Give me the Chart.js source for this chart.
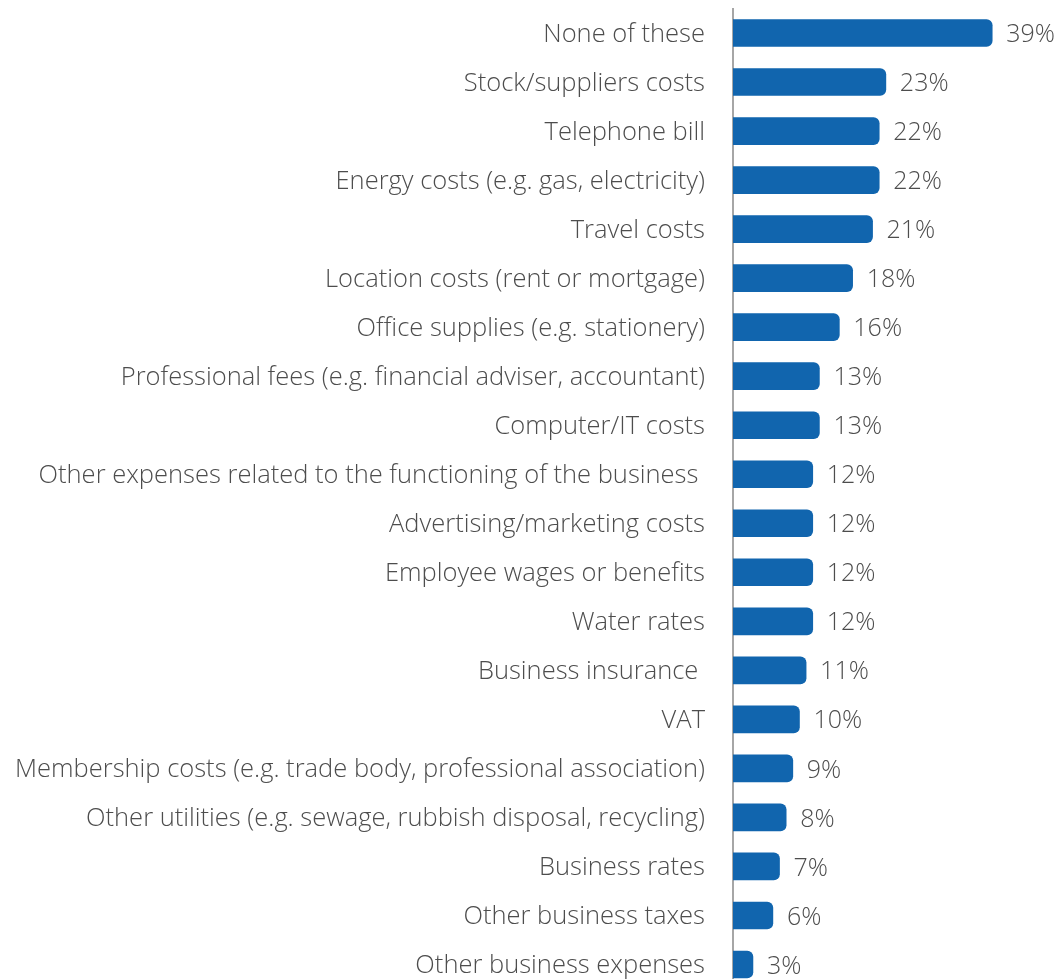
<!DOCTYPE html>
<html>
<head>
<meta charset="utf-8">
<script src="https://cdn.jsdelivr.net/npm/chart.js@4.4.1/dist/chart.umd.min.js"></script>
<style>
  html, body { margin: 0; padding: 0; background: #fff; overflow: hidden; }
  canvas { display: block; }
</style>
</head>
<body>
<canvas id="chart" width="1062" height="989"></canvas>
<script>
const categories = [
  "None of these",
  "Stock/suppliers costs",
  "Telephone bill",
  "Energy costs (e.g. gas, electricity)",
  "Travel costs",
  "Location costs (rent or mortgage)",
  "Office supplies (e.g. stationery)",
  "Professional fees (e.g. financial adviser, accountant)",
  "Computer/IT costs",
  "Other expenses related to the functioning of the business ",
  "Advertising/marketing costs",
  "Employee wages or benefits",
  "Water rates",
  "Business insurance ",
  "VAT",
  "Membership costs (e.g. trade body, professional association)",
  "Other utilities (e.g. sewage, rubbish disposal, recycling)",
  "Business rates",
  "Other business taxes",
  "Other business expenses"
];
const shares = [39, 23, 22, 22, 21, 18, 16, 13, 13, 12, 12, 12, 12, 11, 10, 9, 8, 7, 6, 3];

const FONT = "'Open Sans', Lato, sans-serif";
const TEXT = "#4d4d4d";

// percentage labels just past the end of each bar
const valueLabels = {
  id: "valueLabels",
  afterDatasetsDraw(chart) {
    const ctx = chart.ctx;
    const meta = chart.getDatasetMeta(0);
    ctx.save();
    ctx.font = "300 25px " + FONT;
    ctx.fillStyle = TEXT;
    ctx.textAlign = "left";
    ctx.textBaseline = "middle";
    meta.data.forEach((bar, i) => {
      ctx.fillText(shares[i] + "%", bar.x + 14, bar.y + 2);
    });
    ctx.restore();
  }
};

new Chart(document.getElementById("chart"), {
  type: "bar",
  data: {
    labels: categories,
    datasets: [{
      data: shares,
      backgroundColor: "#1165ae",
      barThickness: 27,
      borderRadius: 6
    }]
  },
  options: {
    indexAxis: "y",
    responsive: false,
    animation: false,
    layout: { padding: { top: 8.5, right: 0, bottom: 0, left: 0 } },
    plugins: { legend: { display: false }, tooltip: { enabled: false } },
    scales: {
      x: { display: false, min: 0, max: 49.5 },
      y: {
        afterFit(scale) {
          scale.width = 733;
          scale.paddingTop = 0;
          scale.paddingBottom = 0;
        },
        grid: { display: false, drawTicks: false },
        border: { display: true, color: "#a6a6a6", width: 2 },
        ticks: {
          padding: 28,
          labelOffset: 1.5,
          color: TEXT,
          font: { family: FONT, size: 25.5, weight: "300" },
          autoSkip: false
        }
      }
    }
  },
  plugins: [valueLabels]
});
</script>
</body>
</html>
